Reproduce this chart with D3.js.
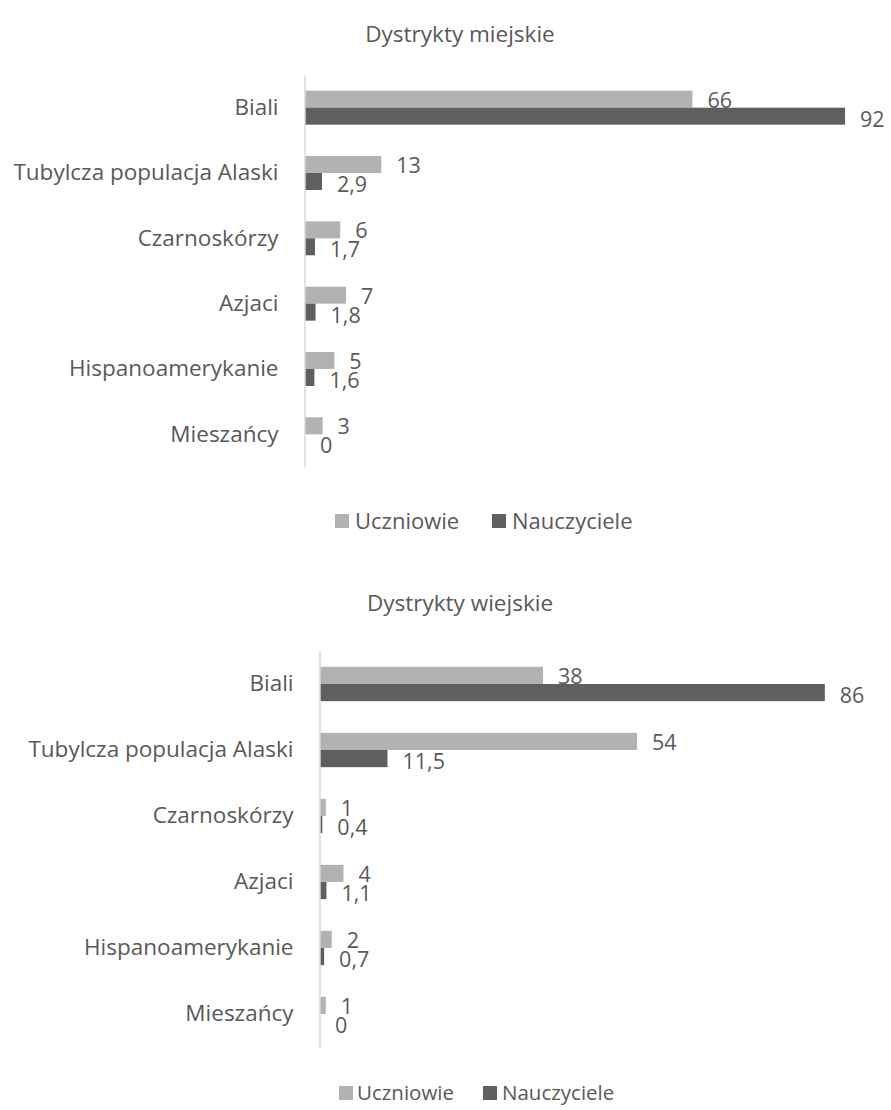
<!DOCTYPE html>
<html lang="pl">
<head>
<meta charset="utf-8">
<script src="https://cdn.jsdelivr.net/npm/d3@7"></script>
<style>
  html, body { margin: 0; padding: 0; background: #fff; }
  svg { display: block; font-family: "Open Sans", "Noto Sans", sans-serif; }
</style>
</head>
<body>
<svg id="chart" width="891" height="1110"></svg>
<script>
// Ethnic composition of students and teachers in Alaskan school districts (%)
const categories = ["Biali", "Tubylcza populacja Alaski", "Czarnoskórzy", "Azjaci", "Hispanoamerykanie", "Mieszańcy"];
const seriesNames = ["Uczniowie", "Nauczyciele"];
const urbanStudents = [66, 13, 6, 7, 5, 3];
const urbanTeachers = [92, 2.9, 1.7, 1.8, 1.6, 0];
const ruralStudents = [38, 54, 1, 4, 2, 1];
const ruralTeachers = [86, 11.5, 0.4, 1.1, 0.7, 0];
const titles = ["Dystrykty miejskie", "Dystrykty wiejskie"];

const colors = ["#b2b2b2", "#5f5f5f"];
const textColor = "#595959";
const plLocale = d3.formatLocale({ decimal: ",", thousands: " ", grouping: [3], currency: ["", " zł"] });
const fmt = plLocale.format(".3~g");

const svg = d3.select("#chart");

function drawPanel(opts) {
  const { title, students, teachers, axisX, top, bottom, titleY, legendY, legendFont, legendItems } = opts;
  const g = svg.append("g");

  const x = d3.scaleLinear().domain([0, 100]).range([axisX, axisX + 587]);
  const y = d3.scaleBand().domain(categories).range([top, bottom])
    .paddingInner(0.48).paddingOuter(0.24);
  const ySeries = d3.scaleBand().domain(seriesNames).range([0, y.bandwidth()]);

  // title
  g.append("text")
    .attr("x", 460).attr("y", titleY)
    .attr("text-anchor", "middle")
    .attr("fill", textColor)
    .style("font-size", "22.5px")
    .text(title);

  // bars
  const rows = categories.map((c, i) => ({ cat: c, vals: [students[i], teachers[i]] }));
  const grp = g.selectAll("g.row").data(rows).join("g")
    .attr("class", "row")
    .attr("transform", d => `translate(0,${y(d.cat)})`);

  grp.selectAll("rect").data(d => d.vals.map((v, k) => ({ v, k })))
    .join("rect")
    .attr("x", x(0))
    .attr("y", d => ySeries(seriesNames[d.k]))
    .attr("width", d => x(d.v) - x(0))
    .attr("height", ySeries.bandwidth())
    .attr("fill", d => colors[d.k]);

  // value labels just past the end of each bar
  grp.selectAll("text.val").data(d => d.vals.map((v, k) => ({ v, k })))
    .join("text")
    .attr("class", "val")
    .attr("x", d => x(d.v) + 15)
    .attr("y", d => ySeries(seriesNames[d.k]) + ySeries.bandwidth() / 2 + (d.k === 0 ? 1 : 3))
    .attr("dy", "0.35em")
    .attr("fill", textColor)
    .style("font-size", "21.5px")
    .text(d => fmt(d.v));

  // category axis
  const axis = g.append("g")
    .attr("transform", `translate(${axisX - 0.5},0)`)
    .call(d3.axisLeft(y).tickSize(0).tickSizeOuter(0).tickPadding(26));
  axis.select(".domain").attr("stroke", "#d9d9d9").attr("stroke-width", 1.5);
  axis.selectAll(".tick text")
    .attr("fill", textColor)
    .style("font-size", "22.5px")
    .style("font-family", "\"Open Sans\", \"Noto Sans\", sans-serif");

  // legend
  const leg = g.append("g");
  seriesNames.forEach((name, k) => {
    const it = legendItems[k];
    leg.append("rect")
      .attr("x", it.sx).attr("y", legendY - 7)
      .attr("width", 14).attr("height", 14)
      .attr("fill", colors[k]);
    leg.append("text")
      .attr("x", it.tx).attr("y", legendY)
      .attr("dy", "0.35em")
      .attr("fill", textColor)
      .style("font-size", legendFont + "px")
      .text(name);
  });
}

drawPanel({
  title: titles[0], students: urbanStudents, teachers: urbanTeachers,
  axisX: 305, top: 75, bottom: 467, titleY: 42,
  legendY: 521, legendFont: 22,
  legendItems: [{ sx: 335, tx: 355 }, { sx: 492, tx: 512 }]
});

drawPanel({
  title: titles[1], students: ruralStudents, teachers: ruralTeachers,
  axisX: 320, top: 651, bottom: 1047, titleY: 611,
  legendY: 1093, legendFont: 20.5,
  legendItems: [{ sx: 339, tx: 357 }, { sx: 483, tx: 502 }]
});
</script>
</body>
</html>
